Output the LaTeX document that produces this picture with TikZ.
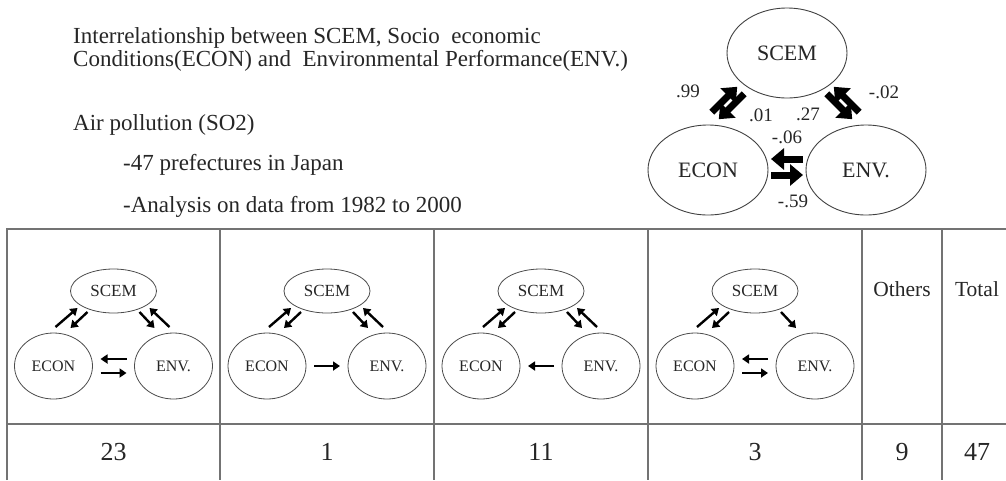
\documentclass[tikz,border=0pt]{standalone}
\usepackage{fontspec}
\setmainfont{Liberation Serif}
\usetikzlibrary{arrows.meta,shapes.geometric}
\begin{document}
\begin{tikzpicture}[x=1pt,y=-1pt,
  txt/.style={anchor=base west, inner sep=0pt, text=black!85, font=\fontsize{23}{23}\selectfont},
  bigell/.style={ellipse, draw=black!75, line width=0.9pt, minimum width=120pt, minimum height=90pt, inner sep=0pt, text=black!85, font=\fontsize{22}{22}\selectfont},
  coef/.style={inner sep=0pt, text=black!85, font=\fontsize{19}{19}\selectfont},
  fat/.style={line width=7pt, -{Triangle[length=13pt,width=21pt]}},
  topell/.style={ellipse, draw=black!70, line width=0.8pt, minimum width=86pt, minimum height=44pt, inner sep=0pt, text=black!85, font=\fontsize{17}{17}\selectfont},
  sidell/.style={ellipse, draw=black!70, line width=0.8pt, minimum width=78pt, minimum height=66pt, inner sep=0pt, text=black!85, font=\fontsize{16}{16}\selectfont},
  slim/.style={line width=2.4pt, -{Triangle[length=7pt,width=9pt]}},
  grid/.style={draw=black!55, line width=1.3pt},
  cell/.style={text=black!85, font=\fontsize{21.5}{21.5}\selectfont},
  count/.style={text=black!85, font=\fontsize{26}{26}\selectfont}]
\useasboundingbox (0,0) rectangle (1006,480);

% heading
\node[txt] (title1) at (73,43.5) {Interrelationship between SCEM, Socio\ \ economic};
\node[txt] (title2) at (73,66.5) {Conditions(ECON) and\ \ Environmental Performance(ENV.)};
\node[txt] (air) at (73,130) {Air pollution (SO2)};
\node[txt] (pref) at (123,170) {-47 prefectures in Japan};
\node[txt] (anal) at (123,212) {-Analysis on data from 1982 to 2000};

% overall path diagram
\node[bigell] (scem) at (787,53) {SCEM};
\node[bigell] (econ) at (708,170) {ECON};
\node[bigell] (env) at (866,170) {ENV.};

\draw[fat] ([shift={(-75.2,59.2)}]scem.center) -- ([shift={(-49.8,33.8)}]scem.center);
\draw[fat] ([shift={(-42.8,40.8)}]scem.center) -- ([shift={(-68.2,66.2)}]scem.center);
\draw[fat] ([shift={(39.8,40.8)}]scem.center) -- ([shift={(65.2,66.2)}]scem.center);
\draw[fat] ([shift={(72.2,59.2)}]scem.center) -- ([shift={(46.8,33.8)}]scem.center);
\draw[fat] ([shift={(95,-11)}]econ.center) -- ([shift={(63,-11)}]econ.center);
\draw[fat] ([shift={(63,5)}]econ.center) -- ([shift={(95,5)}]econ.center);

\node[coef] (c99) at (688,91) {.99};
\node[coef] (c01) at (761,115) {.01};
\node[coef] (c27) at (808,114) {.27};
\node[coef] (c02) at (884,92) {-.02};
\node[coef] (c06) at (787,137) {-.06};
\node[coef] (c59) at (793,201) {-.59};

% table grid
\draw[grid] (7,480) -- (7,229) -- (1006,229);
\draw[grid] (7,424) -- (1006,424);
\foreach \gx in {220,434,648,862,942} \draw[grid] (\gx,229) -- (\gx,480);

% small path diagrams, one per pattern
\foreach \i/\cx in {1/113.5,2/327,3/541,4/755} {
  \node[topell] (s\i) at (\cx,291) {SCEM};
  \node[sidell] (e\i) at (\cx-60,366) {ECON};
  \node[sidell] (v\i) at (\cx+60,366) {ENV.};
}

% SCEM <-> ECON in every pattern, SCEM -> ENV in every pattern
\foreach \i in {1,2,3,4} {
  \draw[slim] ([shift={(-58,36)}]s\i.center) -- ([shift={(-36,17)}]s\i.center);
  \draw[slim] ([shift={(-26,21)}]s\i.center) -- ([shift={(-43,37)}]s\i.center);
  \draw[slim] ([shift={(26,21)}]s\i.center) -- ([shift={(41,37)}]s\i.center);
}
% ENV -> SCEM in patterns 1 to 3
\foreach \i in {1,2,3}
  \draw[slim] ([shift={(56,36)}]s\i.center) -- ([shift={(36,17)}]s\i.center);

% ECON <-> ENV
\draw[slim] ([shift={(73,-7)}]e1.center) -- ([shift={(47,-7)}]e1.center);
\draw[slim] ([shift={(47,7)}]e1.center) -- ([shift={(73,7)}]e1.center);
\draw[slim] ([shift={(47,0)}]e2.center) -- ([shift={(73,0)}]e2.center);
\draw[slim] ([shift={(73,0)}]e3.center) -- ([shift={(47,0)}]e3.center);
\draw[slim] ([shift={(73,-7)}]e4.center) -- ([shift={(47,-7)}]e4.center);
\draw[slim] ([shift={(47,7)}]e4.center) -- ([shift={(73,7)}]e4.center);

% headers and counts
\node[cell] (others) at (902,289) {Others};
\node[cell] (total) at (977,289) {Total};
\node[count] (n1) at (113.5,452) {23};
\node[count] (n2) at (327,452) {1};
\node[count] (n3) at (541,452) {11};
\node[count] (n4) at (755,452) {3};
\node[count] (n5) at (902,452) {9};
\node[count] (n6) at (977,452) {47};
\end{tikzpicture}
\end{document}
